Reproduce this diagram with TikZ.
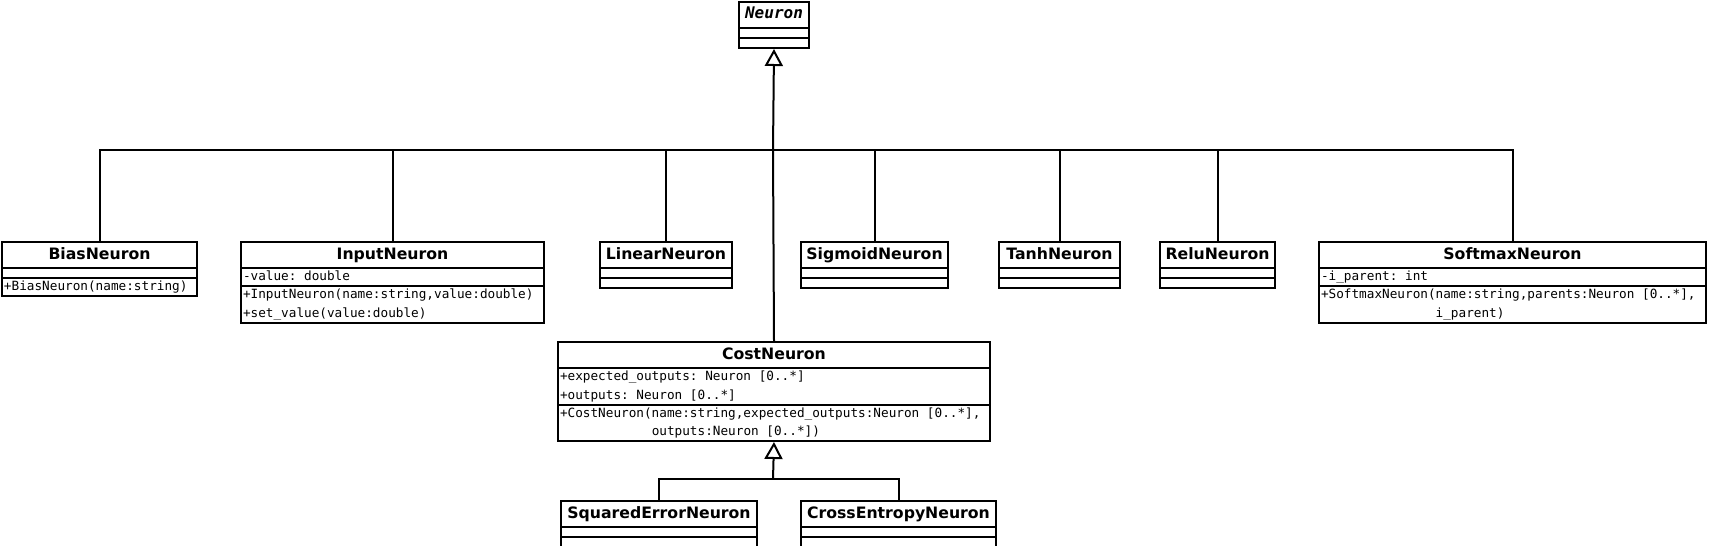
\documentclass[tikz,border=0pt]{standalone}
\usepackage{fontspec}
\setsansfont{DejaVu Sans}
\setmonofont{DejaVu Sans Mono}
\usepackage{tikz}
\usetikzlibrary{arrows.meta}
\usetikzlibrary{shapes.multipart}
\setlength{\parindent}{0pt}
\newcommand{\memberfont}{\fontsize{12.7}{18.5}\selectfont\ttfamily}
\newcommand{\titlefont}{\fontsize{15.7}{19}\selectfont\sffamily\bfseries}
\newcommand{\titlestrut}{\rule[-7pt]{0pt}{22pt}}
\newcommand{\linestrut}{\rule[-3.5pt]{0pt}{14pt}}
\newcommand{\blankpart}{\rule{0pt}{6pt}}
\newcommand{\msp}{\hphantom{0}}
\newcommand{\classtitle}[1]{\titlefont\titlestrut\hspace*{\fill}#1\hspace*{\fill}\null}

\begin{document}
\begin{tikzpicture}[x=1pt,y=-1pt,
	cls/.style={draw, line width=2pt, rectangle split, rectangle split parts=3, anchor=north west, align=left, inner xsep=2pt, inner ysep=1pt, font=\memberfont},
	link/.style={line width=2pt},
	gen/.style={link, -{Triangle[open, length=17pt, width=18pt, line width=2pt]}}]
		\useasboundingbox[fill=white] (0,0) rectangle (1709,546);
		\node[cls, text width=66pt] (neuron) at (738,1) {\fontsize{16}{19}\selectfont\ttfamily\bfseries\itshape\titlestrut\hspace*{\fill}Neuron\hspace*{\fill}\null\nodepart{two}\blankpart\nodepart{three}\blankpart};
		
		\node[cls, text width=191pt] (bias) at (1,241) {\classtitle{BiasNeuron}\nodepart{two}\blankpart\nodepart{three}\linestrut+BiasNeuron(name:string)};
		\node[cls, text width=299pt] (input) at (240,241) {\classtitle{InputNeuron}\nodepart{two}\linestrut-value:\msp double\nodepart{three}\linestrut+InputNeuron(name:string,value:double)\\\linestrut+set\_value(value:double)};
		\node[cls, text width=128pt] (linear) at (599,241) {\classtitle{LinearNeuron}\nodepart{two}\blankpart\nodepart{three}\blankpart};
		\node[cls, text width=143pt] (sigmoid) at (800,241) {\classtitle{SigmoidNeuron}\nodepart{two}\blankpart\nodepart{three}\blankpart};
		\node[cls, text width=117pt] (tanh) at (998,241) {\classtitle{TanhNeuron}\nodepart{two}\blankpart\nodepart{three}\blankpart};
		\node[cls, text width=111pt] (relu) at (1159,241) {\classtitle{ReluNeuron}\nodepart{two}\blankpart\nodepart{three}\blankpart};
		\node[cls, text width=383pt] (softmax) at (1318,241) {\classtitle{SoftmaxNeuron}\nodepart{two}\linestrut-i\_parent:\msp int\nodepart{three}\linestrut+SoftmaxNeuron(name:string,parents:Neuron\msp[0..*],\\\linestrut\hphantom{+SoftmaxNeuron(}i\_parent)};
		
		\node[cls, text width=428pt] (cost) at (557,341) {\classtitle{CostNeuron}\nodepart{two}\linestrut+expected\_outputs:\msp Neuron\msp[0..*]\\\linestrut+outputs:\msp Neuron\msp[0..*]\nodepart{three}\linestrut+CostNeuron(name:string,expected\_outputs:Neuron\msp[0..*],\\\linestrut\hphantom{+CostNeuron(}outputs:Neuron\msp[0..*])};
		
		\node[cls, text width=192pt] (squared) at (560,500) {\classtitle{SquaredErrorNeuron}\nodepart{two}\blankpart\nodepart{three}\blankpart};
		\node[cls, text width=191pt] (crossent) at (800,500) {\classtitle{CrossEntropyNeuron}\nodepart{two}\blankpart\nodepart{three}\blankpart};
		
		\coordinate (hub) at (773,150);
		\coordinate (subhub) at (773,479);
		\draw[link] (bias.north) |- (hub);
		\draw[link] (input.north) |- (hub);
		\draw[link] (linear.north) |- (hub);
		\draw[link] (sigmoid.north) |- (hub);
		\draw[link] (tanh.north) |- (hub);
		\draw[link] (relu.north) |- (hub);
		\draw[link] (softmax.north) |- (hub);
		\draw[link] (cost.north) -- (hub);
		\draw[gen] (hub) -- (neuron.south);
		\draw[link] (squared.north) |- (subhub);
		\draw[link] (crossent.north) |- (subhub);
		\draw[gen] (subhub) -- (cost.south);
		
\end{tikzpicture}
\end{document}
